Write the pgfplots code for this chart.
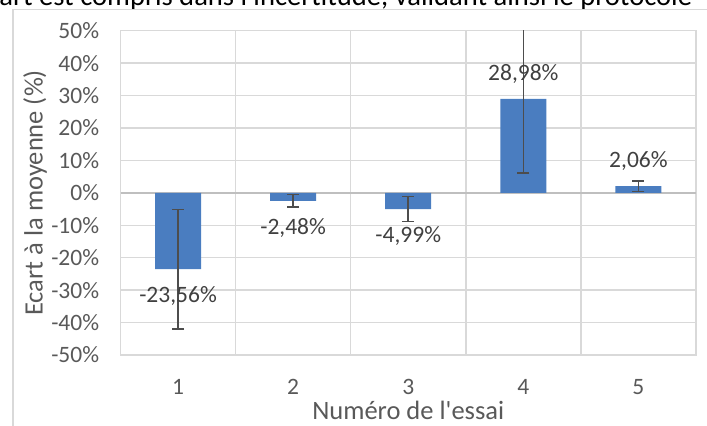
\documentclass[border=0pt]{standalone}
\usepackage{fontspec}
\setmainfont{Carlito}
\usepackage{pgfplots}
\pgfplotsset{compat=1.18}
\usepackage{pgfplotstable}
\definecolor{barblue}{HTML}{4A7DC0}
\definecolor{gridgray}{HTML}{D9D9D9}
\definecolor{zerogray}{HTML}{BFBFBF}
\definecolor{txtgray}{HTML}{595959}
\definecolor{lblgray}{HTML}{404040}
\definecolor{errgray}{HTML}{4D4D4D}
\pgfplotstableread{
x y e
1 -23.56 18.4
2 -2.48 1.9
3 -4.99 3.9
4 28.98 22.8
5 2.06 1.6
}\essais
\begin{document}
\begin{tikzpicture}
\node[anchor=base west, inner sep=0pt, font=\fontsize{14.3pt}{17pt}\selectfont, text=black] at (-0.5pt,210pt) {art est compris dans l\textquotesingle incertitude, validant ainsi le protocole};
\draw[gridgray, line width=0.75pt] (6.5pt,-5pt) -- (6.5pt,208.35pt) -- (360pt,208.35pt);
\begin{axis}[
 at={(60.25pt,35.5pt)}, anchor=south west,
 scale only axis, width=287.75pt, height=162.15pt,
 xmin=0.5, xmax=5.5, ymin=-50, ymax=50,
 xtick={0.5,1.5,2.5,3.5,4.5,5.5}, xticklabels={},
 extra x ticks={1,2,3,4,5},
 extra x tick labels={1,2,3,4,5},
 extra x tick style={grid=none},
 ytick={-50,-40,...,50},
 xmajorgrids, ymajorgrids,
 grid style={gridgray, line width=0.75pt},
 axis line style={gridgray, line width=0.75pt},
 major tick length=0pt, minor tick length=0pt,
 /pgf/number format/assume math mode=true,
 yticklabel={\pgfmathprintnumber{\tick}\%},
 ticklabel style={font=\fontsize{11.75pt}{14pt}\selectfont, text=txtgray},
 yticklabel style={anchor=east, inner sep=0pt, xshift=-10.5pt},
 xticklabel style={anchor=center, inner sep=0pt, yshift=-15.85pt},
 label style={font=\fontsize{13.25pt}{16pt}\selectfont, text=txtgray},
 xlabel={Numéro de l\textquotesingle essai},
 ylabel={Ecart à la moyenne (\%)},
 xlabel style={at={(axis description cs:0.5,-0.2004)}, anchor=base, inner sep=0pt},
 ylabel style={at={(axis description cs:-0.1486,0.5)}, anchor=center, inner sep=0pt},
 extra y ticks={0}, extra y tick labels={},
 extra y tick style={grid style={zerogray, line width=1pt}},
]
\addplot[ybar, bar width=23pt, fill=barblue, draw=none,
  point meta=explicit,
  nodes near coords={\pgfmathprintnumber[fixed, fixed zerofill, precision=2, use comma]{\pgfplotspointmeta}\%},
  visualization depends on={rawy \as \rawy},
  every node near coord/.append style={font=\fontsize{11.75pt}{14pt}\selectfont, text=lblgray, anchor=center, yshift={ifthenelse(\rawy>0,12.5,-13.5)}},
  error bars/.cd, y dir=both, y explicit,
  error bar style={errgray, line width=0.75pt},
  error mark options={errgray, line width=0.75pt, mark size=3pt, rotate=90}]
  table[x=x, y=y, y error=e, meta=y] {\essais};
\end{axis}
\pgfresetboundingbox
\useasboundingbox (0,0) rectangle (353.5pt,213pt);
\end{tikzpicture}
\end{document}
